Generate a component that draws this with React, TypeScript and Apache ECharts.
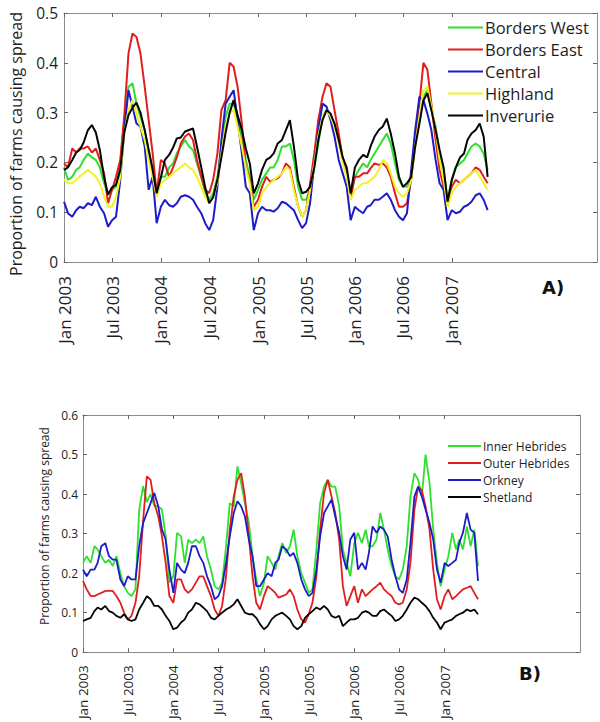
import React, { useEffect, useRef } from "react";
import * as echarts from "echarts";

// semimonthly sampling dates: Jan 2003 .. May 2007 (1st and 16th of each month)
const dates: string[] = [];
for (let k = 0; k < 106; k++) {
  const y = 2003 + Math.floor(k / 24);
  const m = Math.floor((k % 24) / 2) + 1;
  const d = k % 2 === 0 ? "01" : "16";
  dates.push(`${y}-${String(m).padStart(2, "0")}-${d}`);
}

const tickDates = ["2003-01-01", "2003-07-01", "2004-01-01", "2004-07-01", "2005-01-01", "2005-07-01", "2006-01-01", "2006-07-01", "2007-01-01"];
const tickLabels = ["Jan 2003", "Jul 2003", "Jan 2004", "Jul 2004", "Jan 2005", "Jul 2005", "Jan 2006", "Jul 2006", "Jan 2007"];

// Panel A
const bordersWest = [
  0.19, 0.165, 0.171, 0.185, 0.19, 0.205, 0.218, 0.21, 0.205, 0.19,
  0.158, 0.138, 0.145, 0.151, 0.198, 0.285, 0.352, 0.359, 0.318, 0.292,
  0.265, 0.225, 0.185, 0.131, 0.171, 0.171, 0.19, 0.198, 0.218, 0.232,
  0.245, 0.232, 0.225, 0.198, 0.171, 0.138, 0.125, 0.138, 0.171, 0.232,
  0.292, 0.318, 0.318, 0.285, 0.252, 0.205, 0.171, 0.125, 0.145, 0.165,
  0.178, 0.19, 0.19, 0.205, 0.232, 0.232, 0.238, 0.205, 0.151, 0.125,
  0.125, 0.145, 0.19, 0.238, 0.292, 0.305, 0.292, 0.278, 0.252, 0.21,
  0.185, 0.131, 0.171, 0.185, 0.198, 0.19, 0.205, 0.218, 0.232, 0.245,
  0.258, 0.238, 0.198, 0.165, 0.151, 0.151, 0.171, 0.232, 0.285, 0.332,
  0.345, 0.305, 0.272, 0.218, 0.185, 0.125, 0.165, 0.19, 0.198, 0.205,
  0.218, 0.232, 0.238, 0.232, 0.218, 0.185,
];
const bordersEast = [
  0.198, 0.19, 0.228, 0.22, 0.228, 0.228, 0.232, 0.22, 0.228, 0.205,
  0.178, 0.118, 0.145, 0.171, 0.205, 0.292, 0.419, 0.459, 0.452, 0.419,
  0.352, 0.285, 0.218, 0.138, 0.205, 0.198, 0.171, 0.19, 0.21, 0.238,
  0.252, 0.258, 0.245, 0.205, 0.171, 0.145, 0.138, 0.165, 0.218, 0.305,
  0.325, 0.4, 0.392, 0.352, 0.278, 0.19, 0.165, 0.111, 0.125, 0.151,
  0.171, 0.161, 0.165, 0.168, 0.178, 0.198, 0.19, 0.151, 0.111, 0.091,
  0.104, 0.158, 0.218, 0.285, 0.332, 0.359, 0.352, 0.305, 0.258, 0.205,
  0.178, 0.131, 0.171, 0.171, 0.178, 0.178, 0.188, 0.198, 0.195, 0.198,
  0.19, 0.171, 0.138, 0.111, 0.111, 0.118, 0.165, 0.252, 0.318, 0.4,
  0.386, 0.318, 0.245, 0.185, 0.151, 0.125, 0.151, 0.165, 0.158, 0.165,
  0.171, 0.178, 0.19, 0.185, 0.171, 0.158,
];
const central = [
  0.121, 0.098, 0.091, 0.104, 0.111, 0.108, 0.118, 0.114, 0.131, 0.111,
  0.098, 0.071, 0.084, 0.091, 0.165, 0.265, 0.345, 0.312, 0.278, 0.272,
  0.232, 0.145, 0.171, 0.078, 0.111, 0.125, 0.114, 0.111, 0.118, 0.131,
  0.134, 0.131, 0.125, 0.111, 0.098, 0.078, 0.064, 0.084, 0.151, 0.245,
  0.318, 0.332, 0.345, 0.285, 0.218, 0.151, 0.138, 0.064, 0.098, 0.111,
  0.104, 0.104, 0.101, 0.108, 0.121, 0.118, 0.111, 0.104, 0.084, 0.068,
  0.078, 0.118, 0.198, 0.265, 0.318, 0.312, 0.285, 0.252, 0.205, 0.178,
  0.151, 0.084, 0.111, 0.104, 0.098, 0.111, 0.114, 0.125, 0.125, 0.131,
  0.138, 0.125, 0.104, 0.091, 0.084, 0.098, 0.185, 0.265, 0.332, 0.325,
  0.298, 0.265, 0.205, 0.158, 0.145, 0.084, 0.104, 0.098, 0.101, 0.111,
  0.114, 0.121, 0.134, 0.138, 0.125, 0.104,
];
const highland = [
  0.165, 0.158, 0.158, 0.165, 0.171, 0.178, 0.185, 0.178, 0.171, 0.158,
  0.131, 0.111, 0.111, 0.131, 0.171, 0.258, 0.305, 0.325, 0.298, 0.272,
  0.245, 0.205, 0.171, 0.131, 0.158, 0.165, 0.171, 0.178, 0.185, 0.19,
  0.198, 0.19, 0.185, 0.171, 0.151, 0.131, 0.118, 0.131, 0.158, 0.218,
  0.272, 0.298, 0.305, 0.272, 0.232, 0.19, 0.158, 0.104, 0.111, 0.138,
  0.151, 0.158, 0.165, 0.171, 0.178, 0.19, 0.185, 0.145, 0.111, 0.091,
  0.104, 0.145, 0.198, 0.252, 0.292, 0.305, 0.292, 0.272, 0.238, 0.198,
  0.171, 0.125, 0.145, 0.151, 0.158, 0.158, 0.165, 0.171, 0.185, 0.205,
  0.198, 0.178, 0.151, 0.138, 0.131, 0.138, 0.165, 0.232, 0.292, 0.345,
  0.352, 0.312, 0.265, 0.205, 0.165, 0.111, 0.138, 0.151, 0.158, 0.165,
  0.171, 0.178, 0.185, 0.171, 0.158, 0.145,
];
const inverurie = [
  0.185, 0.19, 0.205, 0.22, 0.225, 0.24, 0.265, 0.275, 0.26, 0.225,
  0.17, 0.135, 0.15, 0.155, 0.185, 0.26, 0.295, 0.31, 0.32, 0.3,
  0.265, 0.225, 0.185, 0.138, 0.17, 0.205, 0.215, 0.23, 0.248, 0.25,
  0.262, 0.265, 0.268, 0.232, 0.19, 0.15, 0.118, 0.13, 0.165, 0.21,
  0.26, 0.3, 0.325, 0.295, 0.265, 0.228, 0.198, 0.138, 0.158, 0.185,
  0.205, 0.21, 0.218, 0.238, 0.245, 0.265, 0.285, 0.232, 0.165, 0.138,
  0.141, 0.151, 0.19, 0.245, 0.285, 0.305, 0.298, 0.278, 0.245, 0.21,
  0.19, 0.138, 0.19, 0.205, 0.215, 0.21, 0.232, 0.252, 0.265, 0.272,
  0.288, 0.258, 0.218, 0.171, 0.151, 0.158, 0.171, 0.232, 0.278, 0.325,
  0.339, 0.305, 0.265, 0.225, 0.19, 0.121, 0.165, 0.19, 0.21, 0.218,
  0.245, 0.258, 0.265, 0.278, 0.252, 0.171,
];

// Panel B
const innerHebrides = [
  0.226, 0.243, 0.226, 0.268, 0.26, 0.243, 0.226, 0.234, 0.218, 0.243,
  0.2, 0.167, 0.15, 0.142, 0.159, 0.36, 0.42, 0.38, 0.4, 0.37,
  0.369, 0.361, 0.293, 0.176, 0.192, 0.302, 0.293, 0.226, 0.285, 0.276,
  0.285, 0.276, 0.293, 0.243, 0.209, 0.167, 0.159, 0.176, 0.268, 0.377,
  0.369, 0.47, 0.428, 0.377, 0.327, 0.243, 0.184, 0.142, 0.176, 0.243,
  0.226, 0.209, 0.243, 0.276, 0.251, 0.268, 0.31, 0.243, 0.2, 0.176,
  0.15, 0.159, 0.26, 0.377, 0.419, 0.436, 0.419, 0.419, 0.369, 0.26,
  0.226, 0.192, 0.276, 0.302, 0.276, 0.31, 0.268, 0.268, 0.285, 0.352,
  0.31, 0.26, 0.218, 0.192, 0.184, 0.209, 0.268, 0.394, 0.453, 0.436,
  0.394, 0.5, 0.428, 0.31, 0.226, 0.167, 0.209, 0.243, 0.302, 0.26,
  0.285, 0.26, 0.318, 0.268, 0.31, 0.218,
];
const outerHebrides = [
  0.18, 0.159, 0.142, 0.142, 0.146, 0.15, 0.155, 0.155, 0.155, 0.142,
  0.125, 0.1, 0.083, 0.092, 0.125, 0.192, 0.335, 0.445, 0.436, 0.377,
  0.344, 0.293, 0.226, 0.142, 0.125, 0.184, 0.184, 0.159, 0.15, 0.159,
  0.176, 0.192, 0.192, 0.167, 0.142, 0.108, 0.092, 0.117, 0.192, 0.31,
  0.394, 0.436, 0.453, 0.394, 0.293, 0.192, 0.125, 0.108, 0.142, 0.167,
  0.159, 0.15, 0.138, 0.142, 0.146, 0.159, 0.142, 0.108, 0.083, 0.075,
  0.096, 0.125, 0.192, 0.31, 0.403, 0.436, 0.394, 0.352, 0.285, 0.167,
  0.117, 0.142, 0.167, 0.125, 0.159, 0.142, 0.15, 0.159, 0.167, 0.176,
  0.159, 0.15, 0.142, 0.125, 0.121, 0.125, 0.159, 0.226, 0.361, 0.419,
  0.41, 0.369, 0.31, 0.209, 0.134, 0.108, 0.142, 0.159, 0.134, 0.142,
  0.15, 0.159, 0.163, 0.167, 0.15, 0.134,
];
const orkney = [
  0.209, 0.192, 0.209, 0.209, 0.226, 0.268, 0.276, 0.243, 0.234, 0.234,
  0.184, 0.167, 0.192, 0.184, 0.184, 0.268, 0.327, 0.352, 0.377, 0.403,
  0.369, 0.31, 0.285, 0.209, 0.15, 0.226, 0.209, 0.2, 0.226, 0.268,
  0.268, 0.243, 0.226, 0.192, 0.167, 0.134, 0.142, 0.167, 0.226, 0.293,
  0.352, 0.382, 0.369, 0.344, 0.285, 0.243, 0.167, 0.167, 0.184, 0.2,
  0.192, 0.226, 0.234, 0.268, 0.26, 0.243, 0.251, 0.226, 0.184, 0.159,
  0.142, 0.15, 0.209, 0.293, 0.352, 0.369, 0.386, 0.344, 0.302, 0.243,
  0.209, 0.285, 0.302, 0.209, 0.226, 0.209, 0.251, 0.318, 0.302, 0.318,
  0.31, 0.293, 0.234, 0.192, 0.159, 0.15, 0.184, 0.276, 0.394, 0.419,
  0.394, 0.361, 0.327, 0.285, 0.209, 0.176, 0.226, 0.218, 0.226, 0.234,
  0.276, 0.302, 0.352, 0.31, 0.302, 0.18,
];
const shetland = [
  0.079, 0.083, 0.087, 0.104, 0.113, 0.108, 0.117, 0.104, 0.1, 0.092,
  0.087, 0.096, 0.083, 0.079, 0.083, 0.108, 0.125, 0.142, 0.134, 0.117,
  0.117, 0.108, 0.092, 0.079, 0.058, 0.062, 0.075, 0.083, 0.1, 0.108,
  0.125, 0.121, 0.113, 0.104, 0.087, 0.083, 0.092, 0.1, 0.108, 0.113,
  0.121, 0.134, 0.117, 0.1, 0.096, 0.096, 0.087, 0.071, 0.058, 0.066,
  0.083, 0.092, 0.096, 0.1, 0.092, 0.083, 0.066, 0.058, 0.066, 0.087,
  0.096, 0.104, 0.113, 0.108, 0.117, 0.108, 0.092, 0.087, 0.092, 0.066,
  0.075, 0.083, 0.083, 0.087, 0.1, 0.104, 0.1, 0.092, 0.092, 0.104,
  0.108, 0.1, 0.092, 0.079, 0.083, 0.092, 0.108, 0.125, 0.138, 0.134,
  0.125, 0.117, 0.104, 0.087, 0.075, 0.058, 0.075, 0.079, 0.083, 0.092,
  0.096, 0.1, 0.108, 0.104, 0.108, 0.096,
];

const FONT = "'Open Sans', 'DejaVu Sans', sans-serif";
const AXIS_COLOR = "#8c8c8c";
const TEXT = "#1e1e1e";

function toTime(s: string): number {
  const [y, m, d] = s.split("-").map(Number);
  return Date.UTC(y, m - 1, d);
}
const tickTimes = tickDates.map(toTime);
const T0 = Date.UTC(2003, 0, 1);
const T1 = Date.UTC(2008, 6, 1);

function pairs(vals: number[]) {
  return vals.map((v, i) => [toTime(dates[i]), v]);
}

function xAxes(gridIndex: number, fontSize: number, margin: number) {
  const base = {
    type: "value",
    gridIndex,
    min: T0,
    max: T1,
    splitLine: { show: false },
    axisLine: { show: true, onZero: false, lineStyle: { color: AXIS_COLOR, width: 1 } },
    axisTick: { show: true, inside: true, length: 4, customValues: tickTimes, lineStyle: { color: "#666" } },
  };
  return [
    {
      ...base,
      position: "bottom",
      axisLabel: {
        show: true,
        customValues: tickTimes,
        rotate: 90,
        margin,
        fontSize,
        fontFamily: FONT,
        color: TEXT,
        formatter: (v: number) => {
          const i = tickTimes.indexOf(v);
          return i >= 0 ? tickLabels[i] : "";
        },
      },
    },
    { ...base, position: "top", axisLabel: { show: false } },
  ];
}

function yAxes(gridIndex: number, max: number, fontSize: number, nameSize: number, nameGap: number, margin: number, namePad: number[]) {
  const base = {
    type: "value",
    gridIndex,
    min: 0,
    max,
    interval: 0.1,
    splitLine: { show: false },
    axisLine: { show: true, onZero: false, lineStyle: { color: AXIS_COLOR, width: 1 } },
    axisTick: { show: true, inside: true, length: 4, lineStyle: { color: "#666" } },
  };
  return [
    {
      ...base,
      position: "left",
      name: "Proportion of farms causing spread",
      nameLocation: "middle",
      nameGap,
      nameTextStyle: { fontSize: nameSize, fontFamily: FONT, color: TEXT, padding: namePad },
      axisLabel: { show: true, fontSize, fontFamily: FONT, color: TEXT, margin },
    },
    { ...base, position: "right", axisLabel: { show: false } },
  ];
}

function line(name: string, vals: number[], color: string, axis: number, width: number) {
  return {
    name,
    type: "line",
    xAxisIndex: axis,
    yAxisIndex: axis,
    data: pairs(vals),
    symbol: "none",
    showSymbol: false,
    lineStyle: { color, width },
    itemStyle: { color, opacity: 0 },
    silent: true,
  };
}

const GREEN = "#2ee02e";
const RED = "#e01e1e";
const BLUE = "#1c1cc8";
const YELLOW = "#f2f224";
const BLACK = "#050505";

export default function App() {
  const ref = useRef<HTMLDivElement>(null);
  useEffect(() => {
    if (!ref.current) return;
    const chart = echarts.init(ref.current, null, { renderer: "svg" });
    const option = {
      animation: false,
      backgroundColor: "#ffffff",
      grid: [
        { left: 64, top: 13, width: 533, height: 249 },
        { left: 83, top: 415, width: 497, height: 238 },
      ],
      xAxis: [...xAxes(0, 17, 14), ...xAxes(1, 13.5, 13)],
      yAxis: [...yAxes(0, 0.5, 15.5, 16, 40, 6, [0, 13, 0, 0]), ...yAxes(1, 0.6, 12, 12, 29, 5, [0, 0, 0, 15])],
      legend: [
        {
          data: ["Borders West", "Borders East", "Central", "Highland", "Inverurie"],
          orient: "vertical",
          left: 447,
          top: 19,
          padding: 0,
          itemWidth: 35,
          itemHeight: 14,
          itemGap: 5,
          selectedMode: false,
          itemStyle: { opacity: 0 },
          textStyle: { fontSize: 16.5, fontFamily: FONT, color: TEXT, padding: [0, 0, 0, -3] },
        },
        {
          data: ["Inner Hebrides", "Outer Hebrides", "Orkney", "Shetland"],
          orient: "vertical",
          left: 447,
          top: 440,
          padding: 0,
          itemWidth: 33,
          itemHeight: 12,
          itemGap: 5,
          selectedMode: false,
          itemStyle: { opacity: 0 },
          textStyle: { fontSize: 12, fontFamily: FONT, color: TEXT, padding: [0, 0, 0, -3] },
        },
      ],
      graphic: [
        { type: "text", left: 542, top: 278, style: { text: "A)", fontSize: 18, fontWeight: "bold", fontFamily: "'DejaVu Sans', sans-serif", fill: "#111" } },
        { type: "text", left: 519, top: 664, style: { text: "B)", fontSize: 18, fontWeight: "bold", fontFamily: "'DejaVu Sans', sans-serif", fill: "#111" } },
      ],
      series: [
        line("Borders West", bordersWest, GREEN, 0, 2),
        line("Borders East", bordersEast, RED, 0, 2),
        line("Central", central, BLUE, 0, 2),
        line("Highland", highland, YELLOW, 0, 2),
        line("Inverurie", inverurie, BLACK, 0, 2),
        line("Inner Hebrides", innerHebrides, GREEN, 2, 1.8),
        line("Outer Hebrides", outerHebrides, RED, 2, 1.8),
        line("Orkney", orkney, BLUE, 2, 1.8),
        line("Shetland", shetland, BLACK, 2, 1.8),
      ],
    };
    chart.setOption(option as any);
    return () => chart.dispose();
  }, []);
  return <div ref={ref} style={{ position: "fixed", left: 0, top: 0, width: 600, height: 722, background: "#fff" }} />;
}
